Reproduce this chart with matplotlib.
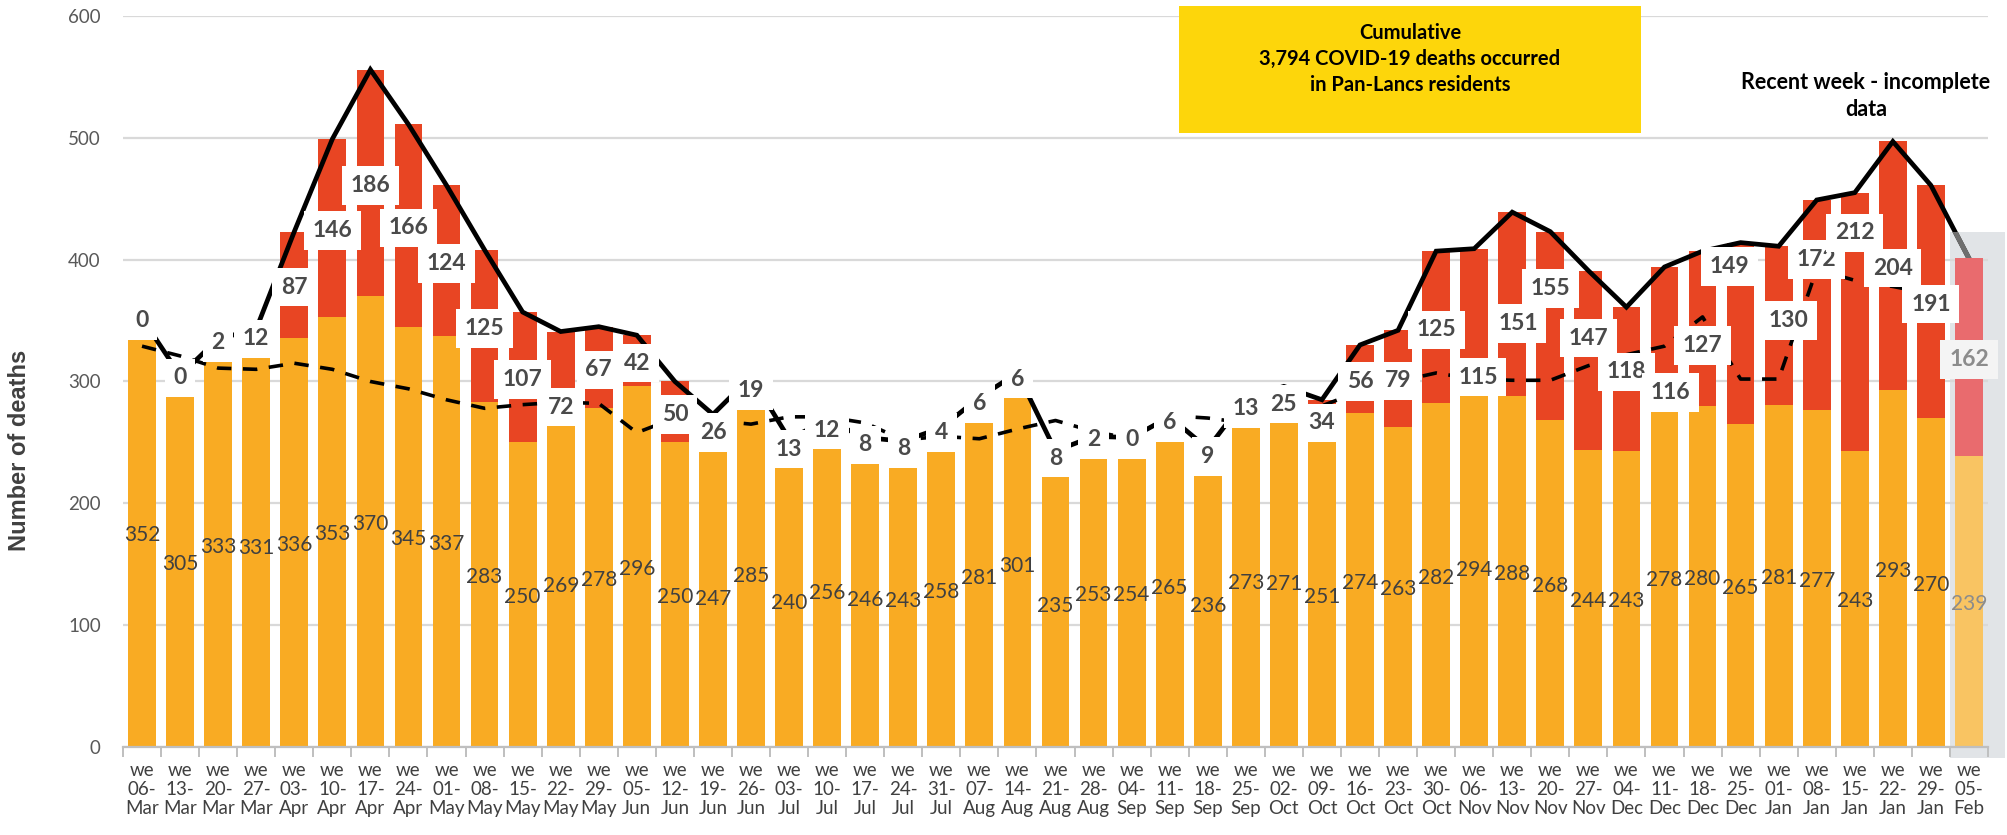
import numpy as np
import matplotlib
matplotlib.use("Agg")
import matplotlib.pyplot as plt
from matplotlib.patches import Rectangle

# ---------------- data ----------------
weeks = ["06-Mar", "13-Mar", "20-Mar", "27-Mar", "03-Apr", "10-Apr", "17-Apr", "24-Apr",
         "01-May", "08-May", "15-May", "22-May", "29-May", "05-Jun", "12-Jun", "19-Jun",
         "26-Jun", "03-Jul", "10-Jul", "17-Jul", "24-Jul", "31-Jul", "07-Aug", "14-Aug",
         "21-Aug", "28-Aug", "04-Sep", "11-Sep", "18-Sep", "25-Sep", "02-Oct", "09-Oct",
         "16-Oct", "23-Oct", "30-Oct", "06-Nov", "13-Nov", "20-Nov", "27-Nov", "04-Dec",
         "11-Dec", "18-Dec", "25-Dec", "01-Jan", "08-Jan", "15-Jan", "22-Jan", "29-Jan",
         "05-Feb"]

other_deaths = [352, 305, 333, 331, 336, 353, 370, 345, 337, 283, 250, 269, 278, 296, 250, 247,
                285, 240, 256, 246, 243, 258, 281, 301, 235, 253, 254, 265, 236, 273, 271, 251,
                274, 263, 282, 294, 288, 268, 244, 243, 278, 280, 265, 281, 277, 243, 293, 270,
                239]

covid_deaths = [0, 0, 2, 12, 87, 146, 186, 166, 124, 125, 107, 72, 67, 42, 50, 26,
                19, 13, 12, 8, 8, 4, 6, 6, 8, 2, 0, 6, 9, 13, 25, 34,
                56, 79, 125, 115, 151, 155, 147, 118, 116, 127, 149, 130, 172, 212, 204, 191,
                162]

expected_deaths = [329, 321, 311, 310, 315, 310, 300, 294, 285, 278, 281, 283, 282, 258, 270, 268,
                   265, 271, 271, 266, 252, 255, 253, 261, 268, 259, 253, 272, 270, 266, 272, 280,
                   292, 300, 307, 302, 301, 301, 313, 322, 329, 353, 302, 302, 392, 383, 378, 372,
                   362]

# manual nudges of COVID labels (as moved in the original chart), in (categories, deaths)
label_nudge = {"22-May": (0, -24), "06-Nov": (0.1, -46), "13-Nov": (0.15, -14),
               "20-Nov": (0, 33), "27-Nov": (0, 20), "04-Dec": (0, 8), "11-Dec": (0.15, -43),
               "18-Dec": (0, -12), "25-Dec": (-0.3, 57), "01-Jan": (0.25, 6),
               "08-Jan": (0, 39), "15-Jan": (0, 75)}

# ---------------- style ----------------
ORANGE = "#F9AB23"
RED = "#E84523"
ORANGE_LIGHT = "#F9C462"
RED_LIGHT = "#E96B6E"
GREY_BG = "#E1E4E7"
TXT = "#404040"
FONT = "Lato"

W, H = 2007, 835
fig = plt.figure(figsize=(W / 100, H / 100), dpi=100)
fig.patch.set_facecolor("white")

ax = fig.add_axes([123 / W, 88 / H, 1865 / W, (747 - 16) / H])
ax.set_facecolor("none")

x = np.arange(len(weeks))
other = np.array(other_deaths, dtype=float)
covid = np.array(covid_deaths, dtype=float)
total = other + covid
expected = np.array(expected_deaths, dtype=float)
n = len(weeks)
bw = 0.73

# grey "incomplete" shading behind last week
shade = Rectangle((n - 1.5, -9), 1.45, 432, facecolor=GREY_BG, edgecolor="none",
                  zorder=0.5, clip_on=False)
ax.add_patch(shade)

# bars (complete weeks)
ax.bar(x[:-1], other[:-1], width=bw, color=ORANGE, zorder=2)
ax.bar(x[:-1], covid[:-1], bottom=other[:-1], width=bw, color=RED, zorder=2)

# lines
ax.plot(x, expected, color="black", lw=2.6, ls=(0, (4, 3.2)), zorder=3)
ax.plot(x, total, color="black", lw=3.4, zorder=3.2, solid_joinstyle="miter")
grey_seg, = ax.plot(x[-2:], total[-2:], color="#6E6E6E", lw=3.6, zorder=3.3)
grey_seg.set_clip_path(shade)

# last (incomplete) bar on top
ax.bar(x[-1:], other[-1:], width=bw, color=ORANGE_LIGHT, zorder=3.5)
ax.bar(x[-1:], covid[-1:], bottom=other[-1:], width=bw, color=RED_LIGHT, zorder=3.5)

# labels
for i, w in enumerate(weeks):
    last = i == n - 1
    ax.text(x[i], other[i] / 2 - 2, f"{int(other[i])}", ha="center", va="center",
            fontsize=15, family=FONT, color="#8C8C8C" if last else TXT, zorder=6)
    dx, dy = label_nudge.get(w, (0, 0))
    ax.text(x[i] + dx, other[i] + covid[i] / 2 - 2 + dy, f"{int(covid[i])}",
            ha="center", va="center", fontsize=16.5, family=FONT, fontweight="bold",
            color="#8C8C8C" if last else "#4A4A4A", zorder=6,
            bbox=dict(boxstyle="square,pad=0.38",
                      facecolor="#F4F4F4" if last else "white", edgecolor="none"))

# axes styling
ax.set_xlim(-0.5, n - 0.5)
ax.set_ylim(0, 600)
ax.set_yticks(np.arange(0, 601, 100))
ax.yaxis.grid(True, color="#D9D9D9", lw=1.6, zorder=1)
ax.set_axisbelow(True)
for s in ["left", "right", "top"]:
    ax.spines[s].set_visible(False)
ax.spines["bottom"].set_color("#BFBFBF")
ax.spines["bottom"].set_linewidth(1.6)
ax.spines["bottom"].set_zorder(4)

ax.set_xticks(x)
ax.set_xticklabels(["we\n" + w.split("-")[0] + "-\n" + w.split("-")[1] for w in weeks],
                   fontsize=13.5, family=FONT, color=TXT, linespacing=1.12)
ax.tick_params(axis="x", length=0, pad=11)
ax.set_xticks(np.arange(-0.5, n, 1), minor=True)
ax.tick_params(axis="x", which="minor", length=7, color="#BFBFBF", width=1.4)
ax.tick_params(axis="y", length=0, pad=16, labelsize=13.5, labelcolor="#595959")
for t in ax.get_yticklabels():
    t.set_family(FONT)

fig.text(20 / W, 0.461, "Number of deaths", rotation=90, ha="center", va="center",
         fontsize=17, fontweight="bold", family="Liberation Sans", color=TXT)

# yellow annotation box
fig.patches.append(Rectangle((1179 / W, 1 - 133 / H), (1641 - 1179) / W, (133 - 6) / H,
                             transform=fig.transFigure, facecolor="#FDD60B",
                             edgecolor="none", zorder=5))
fig.text(1410 / W, 1 - 59 / H, "Cumulative\n3,794 COVID-19 deaths occurred\nin Pan-Lancs residents",
         ha="center", va="center", fontsize=14.5, fontweight="bold", family=FONT,
         color="black", linespacing=1.4, zorder=6)

fig.text(1866 / W, 1 - 96 / H, "Recent week - incomplete\ndata", ha="center", va="center",
         fontsize=15.5, fontweight="bold", family=FONT, color="black", linespacing=1.35)

fig.savefig("out.png", dpi=100)
